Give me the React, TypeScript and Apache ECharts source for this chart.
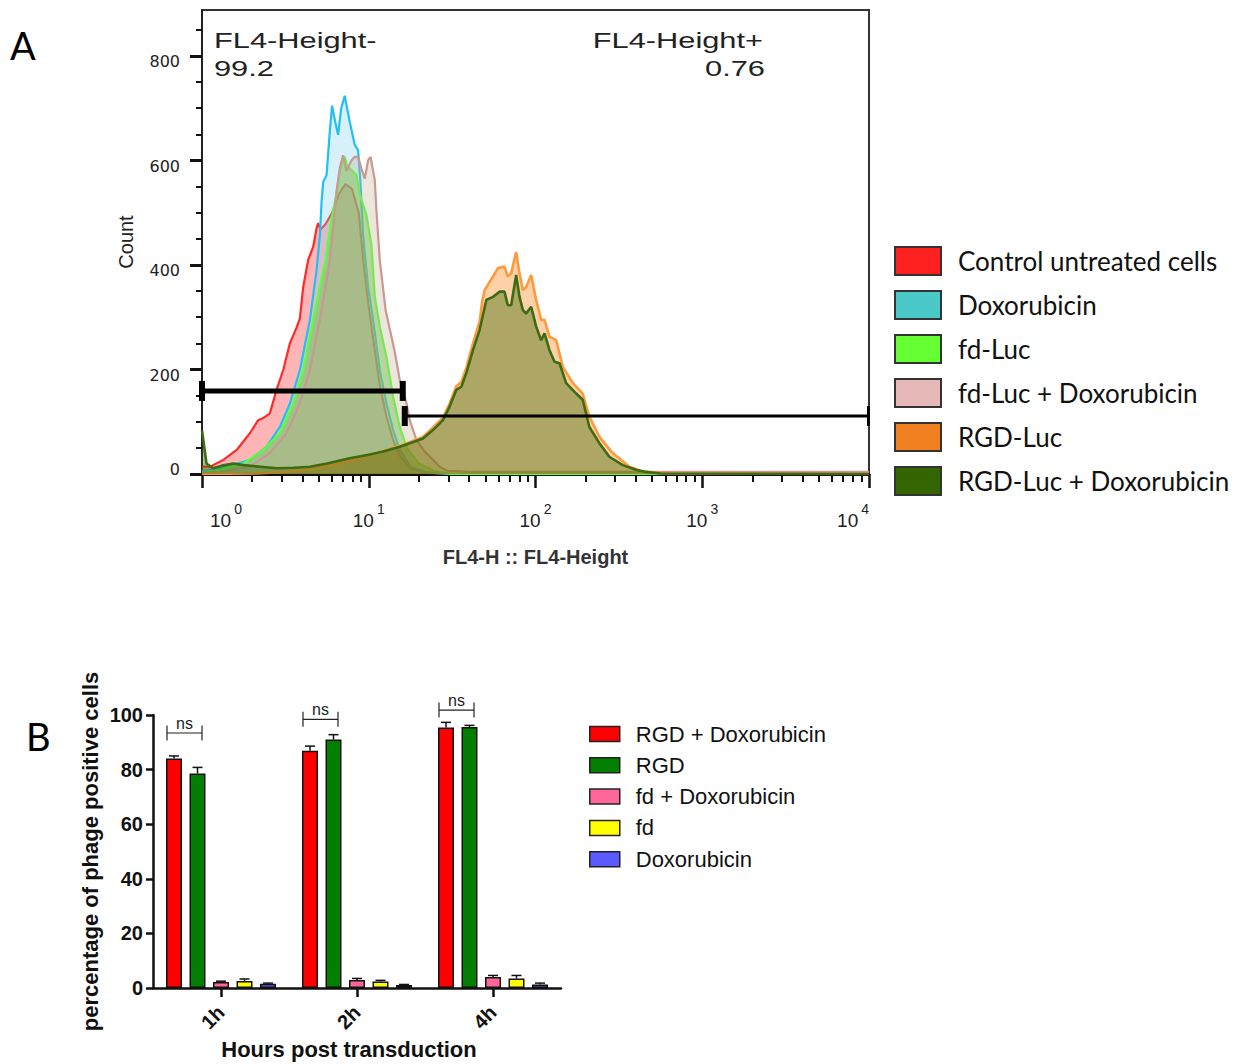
import React, { useEffect, useRef } from "react";
import * as echarts from "echarts";

// ---------------- Panel A: flow cytometry histogram (x in decades of FL4-Height) ----------------
const histNames = [
  "Control untreated cells",
  "Doxorubicin",
  "fd-Luc",
  "fd-Luc + Doxorubicin",
  "RGD-Luc",
  "RGD-Luc + Doxorubicin",
];

const controlUntreated = [
  [0, 14], [0.048, 14], [0.128, 27], [0.208, 46], [0.287, 78], [0.337, 103], [0.367, 107], [0.407, 116],
  [0.447, 161], [0.487, 199], [0.527, 250], [0.567, 280], [0.587, 298], [0.607, 358], [0.637, 410],
  [0.667, 435], [0.687, 470], [0.697, 480], [0.71, 468], [0.74, 478], [0.78, 500], [0.82, 535],
  [0.86, 555], [0.9, 545], [0.94, 500], [0.97, 400], [1.0, 320], [1.026, 260], [1.066, 170],
  [1.106, 110], [1.146, 65], [1.186, 35], [1.25, 10], [1.35, 2], [1.5, 0], [4, 0],
];
const doxorubicinHist = [
  [0, 5], [0.148, 14], [0.287, 27], [0.387, 52], [0.467, 90], [0.527, 135], [0.587, 199], [0.647, 295],
  [0.687, 390], [0.707, 457], [0.717, 521], [0.727, 559], [0.747, 572], [0.765, 650], [0.78, 705],
  [0.795, 680], [0.816, 649], [0.835, 700], [0.856, 724], [0.87, 700], [0.886, 674], [0.916, 630],
  [0.936, 620], [0.95, 560], [0.966, 458], [0.996, 358], [1.026, 295], [1.066, 199], [1.106, 135],
  [1.146, 84], [1.186, 46], [1.25, 14], [1.35, 3], [1.5, 0], [4, 0],
];
const fdLuc = [
  [0, 3], [0.108, 8], [0.248, 20], [0.367, 46], [0.467, 78], [0.547, 135], [0.607, 199], [0.667, 295],
  [0.727, 390], [0.737, 400], [0.757, 445], [0.777, 489], [0.806, 534], [0.826, 579], [0.846, 600],
  [0.856, 607], [0.87, 590], [0.886, 585], [0.926, 572], [0.946, 534], [0.966, 515], [0.986, 496],
  [1.016, 438], [1.036, 340], [1.066, 282], [1.106, 224], [1.146, 148], [1.186, 90], [1.226, 52],
  [1.3, 20], [1.4, 5], [1.5, 0], [4, 0],
];
const fdLucDox = [
  [0, 2], [0.108, 4], [0.228, 10], [0.287, 14], [0.407, 40], [0.507, 78], [0.587, 135], [0.647, 199],
  [0.707, 295], [0.757, 390], [0.766, 406], [0.786, 470], [0.806, 540], [0.826, 585], [0.846, 610],
  [0.866, 580], [0.896, 600], [0.916, 607], [0.936, 607], [0.956, 585], [0.976, 565], [0.996, 600],
  [1.011, 607], [1.026, 580], [1.036, 563], [1.046, 505], [1.066, 410], [1.101, 314], [1.156, 234],
  [1.186, 180], [1.226, 136], [1.246, 103], [1.286, 65], [1.33, 45], [1.385, 27], [1.425, 14],
  [1.47, 6], [1.6, 4], [2.6, 4], [4, 4],
];
const rgdLuc = [
  [0, 0], [0.3, 1], [0.5, 4], [0.65, 10], [0.8, 18], [0.9, 26], [1.0, 34], [1.086, 44], [1.186, 54],
  [1.246, 61], [1.325, 71], [1.385, 89], [1.445, 108], [1.485, 135], [1.525, 168], [1.555, 176],
  [1.585, 203], [1.625, 250], [1.665, 292], [1.68, 330], [1.695, 352], [1.745, 378], [1.775, 394],
  [1.814, 397], [1.834, 378], [1.854, 384], [1.884, 425], [1.904, 384], [1.924, 352], [1.944, 358],
  [1.974, 381], [2.004, 333], [2.034, 295], [2.054, 295], [2.084, 263], [2.124, 256], [2.164, 205],
  [2.224, 174], [2.283, 154], [2.323, 110], [2.383, 71], [2.463, 40], [2.563, 14], [2.65, 4],
  [2.8, 1], [4, 0],
];
const rgdLucDox = [
  [0, 84], [0.012, 55], [0.027, 20], [0.066, 11], [0.12, 16], [0.188, 20], [0.25, 17], [0.35, 14],
  [0.45, 11], [0.55, 12], [0.647, 14], [0.75, 20], [0.886, 30], [1.0, 37], [1.086, 43], [1.186, 52],
  [1.246, 59], [1.325, 68], [1.385, 84], [1.445, 103], [1.485, 129], [1.525, 161], [1.555, 167],
  [1.585, 193], [1.625, 237], [1.665, 276], [1.705, 333], [1.745, 339], [1.784, 349], [1.814, 349],
  [1.834, 323], [1.854, 323], [1.884, 381], [1.904, 339], [1.924, 314], [1.944, 307], [1.974, 320],
  [2.004, 282], [2.034, 256], [2.054, 269], [2.084, 237], [2.114, 215], [2.144, 212], [2.184, 174],
  [2.244, 154], [2.283, 142], [2.323, 90], [2.383, 59], [2.443, 33], [2.523, 17], [2.603, 8],
  [2.66, 4], [2.75, 1], [4, 0],
];
const histData = [controlUntreated, doxorubicinHist, fdLuc, fdLucDox, rgdLuc, rgdLucDox];

// gates: [from decade, to decade, count level]
const gates = [
  [0, 1.216, 159],
  [1.216, 4, 111],
];
const gateStats = [
  { label: "FL4-Height-", value: "99.2" },
  { label: "FL4-Height+", value: "0.76" },
];

const countTicks = [0, 200, 400, 600, 800];
const countMinorTicks = [50, 100, 150, 250, 300, 350, 450, 500, 550, 650, 700, 750, 850];
const countMax = 888;
const decades = [0, 1, 2, 3, 4];
const minorMultipliers = [2, 3, 4, 5, 6, 7, 8, 9];

// ---------------- Panel B: grouped bars ----------------
const timepoints = ["1h", "2h", "4h"];
const barNames = ["RGD + Doxorubicin", "RGD", "fd + Doxorubicin", "fd", "Doxorubicin"];
const rgdDoxMean = [84.1, 86.9, 95.4];
const rgdDoxErr = [0.9, 1.7, 1.9];
const rgdMean = [78.6, 91.0, 95.6];
const rgdErr = [2.2, 1.8, 0.6];
const fdDoxMean = [2.2, 2.9, 4.0];
const fdDoxErr = [0.3, 0.6, 0.6];
const fdMean = [2.6, 2.4, 3.5];
const fdErr = [0.7, 0.4, 1.1];
const doxMean = [1.6, 1.1, 1.3];
const doxErr = [0.2, 0.2, 0.5];
const barMeans = [rgdDoxMean, rgdMean, fdDoxMean, fdMean, doxMean];
const barErrs = [rgdDoxErr, rgdErr, fdDoxErr, fdErr, doxErr];
const nsLevels = [93.4, 98.4, 101.8];

// ---------------- styles ----------------
const histLine = ["#ff2a2a", "#22c0f2", "#5cff3a", "#c99893", "#ff9a3c", "#3d6b12"];
const histFill = [
  "rgba(255,90,90,0.45)",
  "rgba(120,210,245,0.30)",
  "rgba(90,200,60,0.45)",
  "rgba(190,175,140,0.30)",
  "rgba(255,140,40,0.40)",
  "rgba(51,102,0,0.40)",
];
const histLegendColor = ["#ff2020", "#4bc8c8", "#66ff33", "#e6b8b8", "#f08020", "#336600"];
const barColors = ["#ff0000", "#007f00", "#ff6699", "#ffff00", "#5a5aff"];

const BAR_W = 16;
const BAR_GAP = 7.5;
const PITCH = BAR_W + BAR_GAP;
const barOffset = (si: number) => (si - (barNames.length - 1) / 2) * PITCH;

const ARIAL = "Liberation Sans";

export default function App() {
  const ref = useRef<HTMLDivElement>(null);

  useEffect(() => {
    if (!ref.current) return;
    const chart = echarts.init(ref.current, null, { renderer: "svg" });

    const minorDecadeTicks = decades
      .slice(0, -1)
      .flatMap((k) => minorMultipliers.map((m) => k + Math.log10(m)));

    const histSeries = histNames.map((name, i) => ({
      name,
      type: "line",
      xAxisIndex: 0,
      yAxisIndex: 0,
      data: histData[i],
      symbol: "none",
      smooth: false,
      lineStyle: { color: histLine[i], width: i >= 4 ? 2.6 : 2.2 },
      itemStyle: { color: histLegendColor[i] },
      areaStyle: { color: histFill[i], opacity: 1 },
      z: 2 + i,
    }));

    const gateSeries = {
      type: "custom",
      xAxisIndex: 0,
      yAxisIndex: 0,
      clip: false,
      z: 20,
      data: gates,
      renderItem: (params: any, api: any) => {
        const i = params.dataIndex;
        const a = api.coord([api.value(0), api.value(2)]);
        const b = api.coord([api.value(1), api.value(2)]);
        const w = i === 0 ? 5 : 3;
        const capR = i === 0 ? 6 : 3;
        const h = 10;
        return {
          type: "group",
          children: [
            { type: "line", shape: { x1: a[0], y1: a[1], x2: b[0], y2: b[1] }, style: { stroke: "#000", lineWidth: w } },
            { type: "line", shape: { x1: a[0], y1: a[1] - h, x2: a[0], y2: a[1] + h }, style: { stroke: "#000", lineWidth: 6 } },
            { type: "line", shape: { x1: b[0] - capR / 2 + 1, y1: b[1] - h, x2: b[0] - capR / 2 + 1, y2: b[1] + h }, style: { stroke: "#000", lineWidth: capR } },
          ],
        };
      },
    };

    const barSeries = barNames.map((name, i) => ({
      name,
      type: "bar",
      xAxisIndex: 2,
      yAxisIndex: 2,
      data: barMeans[i],
      barWidth: BAR_W,
      barGap: `${(BAR_GAP / BAR_W) * 100}%`,
      itemStyle: { color: barColors[i], borderColor: "#111", borderWidth: 1.5 },
      z: 3,
    }));

    const errData: number[][] = [];
    barMeans.forEach((arr, si) =>
      arr.forEach((m, ci) => errData.push([ci, m, barErrs[si][ci], si]))
    );

    const errSeries = {
      type: "custom",
      xAxisIndex: 2,
      yAxisIndex: 2,
      clip: false,
      z: 4,
      data: errData,
      renderItem: (params: any, api: any) => {
        const ci = api.value(0);
        const m = api.value(1);
        const e = api.value(2);
        const si = api.value(3);
        const base = api.coord([ci, m]);
        const top = api.coord([ci, m + e]);
        const x = base[0] + barOffset(si);
        return {
          type: "group",
          children: [
            { type: "line", shape: { x1: x, y1: base[1], x2: x, y2: top[1] }, style: { stroke: "#111", lineWidth: 1.5 } },
            { type: "line", shape: { x1: x - 5, y1: top[1], x2: x + 5, y2: top[1] }, style: { stroke: "#111", lineWidth: 1.5 } },
          ],
        };
      },
    };

    const nsSeries = {
      type: "custom",
      xAxisIndex: 2,
      yAxisIndex: 2,
      clip: false,
      z: 5,
      data: nsLevels.map((lv, ci) => [ci, lv]),
      renderItem: (params: any, api: any) => {
        const p = api.coord([api.value(0), api.value(1)]);
        const x0 = p[0] + barOffset(0) - BAR_W / 2 + 1;
        const x1 = p[0] + barOffset(1) + BAR_W / 2 - 3.5;
        const y = p[1];
        const h = 7.5;
        return {
          type: "group",
          children: [
            { type: "line", shape: { x1: x0, y1: y, x2: x1, y2: y }, style: { stroke: "#222", lineWidth: 1.2 } },
            { type: "line", shape: { x1: x0, y1: y - h, x2: x0, y2: y + h }, style: { stroke: "#222", lineWidth: 1.2 } },
            { type: "line", shape: { x1: x1, y1: y - h, x2: x1, y2: y + h }, style: { stroke: "#222", lineWidth: 1.2 } },
            {
              type: "text",
              style: {
                text: "ns",
                x: (x0 + x1) / 2,
                y: y - 2,
                align: "center",
                verticalAlign: "bottom",
                fontFamily: ARIAL,
                fontSize: 16,
                fill: "#222",
              },
            },
          ],
        };
      },
    };

    const option: any = {
      animation: false,
      backgroundColor: "#fff",
      grid: [
        {
          left: 202, top: 10, width: 667, height: 464,
          containLabel: false, outerBoundsMode: "none",
          show: true, borderColor: "#333", borderWidth: 2, backgroundColor: "transparent",
        },
        {
          left: 153, top: 715, width: 408, height: 273,
          containLabel: false, outerBoundsMode: "none",
        },
      ],
      xAxis: [
        {
          gridIndex: 0, type: "value", min: 0, max: 4, interval: 1,
          name: "FL4-H :: FL4-Height", nameLocation: "middle", nameGap: 73,
          nameTextStyle: { fontFamily: ARIAL, fontWeight: "bold", fontSize: 20, color: "#333" },
          axisLine: { show: true, lineStyle: { color: "#111", width: 3 } },
          axisTick: { show: true, length: 14, lineStyle: { color: "#111", width: 2.5 } },
          splitLine: { show: false },
          axisLabel: {
            margin: 28,
            alignMinLabel: "left",
            alignMaxLabel: "right",
            formatter: (v: number) => {
              const k = Math.round(v);
              return k === 0 ? `{b0|10}{s|${k}}` : `{b|10}{s|${k}}`;
            },
            rich: {
              b: { fontFamily: ARIAL, fontSize: 19, lineHeight: 36, color: "#222" },
              b0: { fontFamily: ARIAL, fontSize: 19, lineHeight: 36, color: "#222", padding: [0, 0, 0, 8] },
              s: { fontFamily: ARIAL, fontSize: 14, lineHeight: 10, verticalAlign: "top", color: "#222", padding: [0, 0, 0, 3] },
            },
          },
        },
        {
          gridIndex: 0, type: "value", min: 0, max: 4, position: "bottom",
          axisLine: { show: false },
          axisLabel: { show: false },
          splitLine: { show: false },
          axisTick: { show: true, length: 8, customValues: minorDecadeTicks, lineStyle: { color: "#111", width: 2 } },
        },
        {
          gridIndex: 1, type: "category", data: timepoints,
          name: "Hours post transduction", nameLocation: "middle", nameGap: 50,
          nameTextStyle: { fontFamily: ARIAL, fontWeight: "bold", fontSize: 22, color: "#111", padding: [0, 16, 0, 0] },
          axisLine: { show: true, lineStyle: { color: "#111", width: 2.5 } },
          axisTick: { show: true, alignWithLabel: true, length: 9, lineStyle: { color: "#111", width: 2.5 } },
          axisLabel: { rotate: 45, margin: 21, fontFamily: ARIAL, fontWeight: "bold", fontSize: 20, color: "#111" },
          splitLine: { show: false },
        },
      ],
      yAxis: [
        {
          gridIndex: 0, type: "value", min: 0, max: countMax,
          name: "Count", nameLocation: "middle", nameGap: 66,
          nameTextStyle: { fontFamily: ARIAL, fontSize: 20, color: "#222" },
          axisLine: { show: true, lineStyle: { color: "#222", width: 2 } },
          axisTick: { show: true, length: 12, customValues: countTicks, lineStyle: { color: "#111", width: 3 } },
          axisLabel: {
            customValues: countTicks, margin: 22, color: "#222",
            formatter: (v: number) => (v === 0 ? `{z|${v}}` : `{n|${v}}`),
            rich: {
              n: { fontFamily: "DejaVu Sans", fontSize: 16, color: "#222", padding: [12, 0, 0, 0] },
              z: { fontFamily: "DejaVu Sans", fontSize: 16, color: "#222", padding: [0, 0, 10, 0] },
            },
          },
          splitLine: { show: false },
        },
        {
          gridIndex: 0, type: "value", min: 0, max: countMax, position: "left",
          axisLine: { show: false },
          axisLabel: { show: false },
          splitLine: { show: false },
          axisTick: { show: true, length: 6, customValues: countMinorTicks, lineStyle: { color: "#111", width: 2 } },
        },
        {
          gridIndex: 1, type: "value", min: 0, max: 100, interval: 20,
          name: "percentage of phage positive cells", nameLocation: "middle", nameGap: 52,
          nameTextStyle: { fontFamily: ARIAL, fontWeight: "bold", fontSize: 22, color: "#111" },
          axisLine: { show: true, lineStyle: { color: "#111", width: 2.5 } },
          axisTick: { show: true, length: 7, lineStyle: { color: "#111", width: 2.5 } },
          axisLabel: { margin: 10, fontFamily: ARIAL, fontWeight: "bold", fontSize: 20, color: "#111" },
          splitLine: { show: false },
        },
      ],
      legend: [
        {
          orient: "vertical", left: 894, top: 246, padding: 0,
          itemWidth: 46, itemHeight: 28, itemGap: 14, icon: "rect", selectedMode: false,
          data: histNames.map((n, i) => ({
            name: n,
            itemStyle: { color: histLegendColor[i], borderColor: "#333", borderWidth: 2 },
          })),
          textStyle: { fontFamily: "Lato", fontSize: 26, lineHeight: 28, color: "#111", padding: [0, 0, 0, 12] },
        },
        {
          orient: "vertical", left: 589, top: 723, padding: 0,
          itemWidth: 30, itemHeight: 15, itemGap: 9.3, icon: "rect", selectedMode: false,
          data: barNames.map((n, i) => ({
            name: n,
            itemStyle: { color: barColors[i], borderColor: "#222", borderWidth: 1.5 },
          })),
          textStyle: { fontFamily: ARIAL, fontSize: 22, lineHeight: 22, color: "#111", padding: [0, 0, 0, 11] },
        },
      ],
      graphic: [
        { type: "text", x: 10, y: 26, style: { text: "A", fontFamily: "Lato", fontSize: 38, fill: "#000" } },
        { type: "text", x: 26, y: 717, style: { text: "B", fontFamily: "Lato", fontSize: 38, fill: "#000" } },
        { type: "text", x: 214, y: 30, scaleX: 1.4, style: { text: gateStats[0].label, fontFamily: ARIAL, fontSize: 22, fill: "#222", align: "left", verticalAlign: "top" } },
        { type: "text", x: 214, y: 58, scaleX: 1.4, style: { text: gateStats[0].value, fontFamily: ARIAL, fontSize: 22, fill: "#222", align: "left", verticalAlign: "top" } },
        { type: "text", x: 763, y: 30, scaleX: 1.4, style: { text: gateStats[1].label, fontFamily: ARIAL, fontSize: 22, fill: "#222", align: "right", verticalAlign: "top" } },
        { type: "text", x: 765, y: 58, scaleX: 1.4, style: { text: gateStats[1].value, fontFamily: ARIAL, fontSize: 22, fill: "#222", align: "right", verticalAlign: "top" } },
      ],
      series: [...histSeries, gateSeries, ...barSeries, errSeries, nsSeries],
    };

    chart.setOption(option);
    return () => chart.dispose();
  }, []);

  return (
    <div
      ref={ref}
      style={{ position: "absolute", left: 0, top: 0, width: 1237, height: 1064, background: "#fff" }}
    />
  );
}
